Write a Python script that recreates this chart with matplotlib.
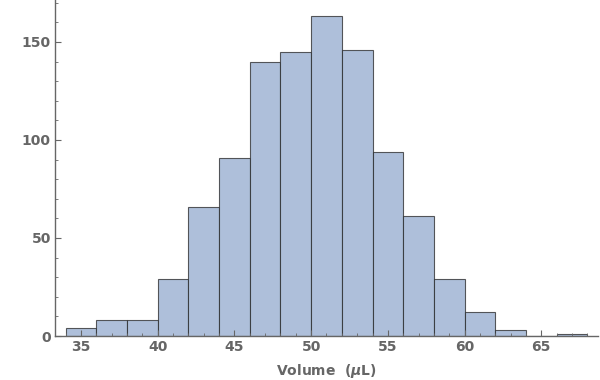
import numpy as np
import matplotlib
matplotlib.use("Agg")
from matplotlib import pyplot as plt
from matplotlib.ticker import MultipleLocator

plt.rcParams['font.family'] = ['DejaVu Sans']
plt.rcParams['font.weight'] = 'bold'
plt.rcParams['mathtext.fontset'] = 'custom'
plt.rcParams['mathtext.it'] = 'DejaVu Sans:italic:bold'
plt.rcParams['mathtext.rm'] = 'DejaVu Sans:bold'

# histogram bins (width 2) and counts
bin_edges = [34, 36, 38, 40, 42, 44, 46, 48, 50, 52, 54, 56, 58, 60, 62, 64, 66, 68]
counts = [4, 8, 8, 29, 66, 91, 140, 145, 163, 146, 94, 61, 29, 12, 3, 0, 1]

gray = "#666666"

fig = plt.figure(figsize=(6, 3.8), dpi=100)
ax = fig.add_axes([55/600, 44/380, 543/600, 336/380])

lefts = np.array(bin_edges[:-1])
widths = np.diff(bin_edges)
ax.bar(lefts, counts, width=widths, align="edge",
       color="#aebfda", edgecolor=(0.15, 0.15, 0.15, 0.75), linewidth=0.8, zorder=1)

ax.set_xlim(33.3, 68.7)
ax.set_ylim(0, 171.4)

for s in ["top", "right"]:
    ax.spines[s].set_visible(False)
for s in ["left", "bottom"]:
    ax.spines[s].set_color(gray)
    ax.spines[s].set_linewidth(1.0)
    ax.spines[s].set_zorder(3)

ax.xaxis.set_major_locator(MultipleLocator(5))
ax.xaxis.set_minor_locator(MultipleLocator(1))
ax.yaxis.set_major_locator(MultipleLocator(50))
ax.yaxis.set_minor_locator(MultipleLocator(10))
ax.tick_params(which="both", direction="in", color=gray, zorder=3)
ax.tick_params(which="major", length=4, width=0.8, labelsize=10, labelcolor=gray, pad=3)
ax.tick_params(which="minor", length=2.2, width=0.6)

ax.set_xlabel("Volume  ($\\mathit{\\mu}$L)", fontsize=10, fontweight="bold", color=gray)
ax.xaxis.set_label_coords(0.5, -0.078)

fig.savefig("out.png", dpi=100)
